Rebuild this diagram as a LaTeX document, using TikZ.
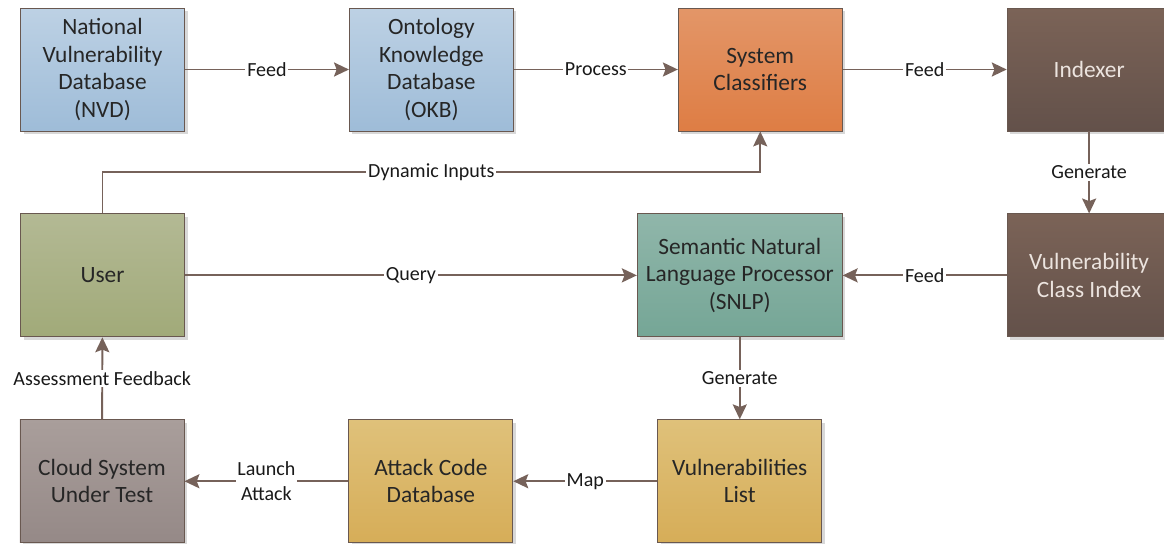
\documentclass[tikz,border=0pt]{standalone}
\usepackage{fontspec}
\setmainfont{Carlito}
\usetikzlibrary{arrows.meta, positioning, shadows}

\definecolor{linec}{RGB}{118,98,90}
\definecolor{boxline}{RGB}{105,88,80}

\begin{document}
\begin{tikzpicture}[>={Stealth[length=8.5pt,width=8pt,inset=1.5pt]}, node distance=3.28cm,
    box/.style={draw=boxline, line width=0.5pt, minimum width=3.28cm, minimum height=2.46cm,
        inner sep=2pt, align=center, text=black!85, font=\fontsize{13.3}{15.6}\selectfont,
        drop shadow={shadow xshift=0.06cm, shadow yshift=-0.06cm, fill=black!30, opacity=0.5}},
    fblue/.style={top color={rgb,255:red,189;green,209;blue,228}, bottom color={rgb,255:red,158;green,188;blue,216}},
    forange/.style={top color={rgb,255:red,227;green,150;blue,104}, bottom color={rgb,255:red,222;green,125;blue,68}},
    fbrown/.style={top color={rgb,255:red,123;green,99;blue,87}, bottom color={rgb,255:red,99;green,81;blue,74}, text={rgb,255:red,236;green,228;blue,223}},
    folive/.style={top color={rgb,255:red,179;green,185;blue,148}, bottom color={rgb,255:red,161;green,170;blue,121}},
    fteal/.style={top color={rgb,255:red,144;green,182;blue,170}, bottom color={rgb,255:red,117;green,166;blue,150}},
    fmauve/.style={top color={rgb,255:red,169;green,158;blue,155}, bottom color={rgb,255:red,149;green,137;blue,135}},
    fgold/.style={top color={rgb,255:red,223;green,193;blue,122}, bottom color={rgb,255:red,214;green,173;blue,88}},
    lbl/.style={fill=white, inner sep=1pt, text=black!90, font=\fontsize{11.4}{14}\selectfont},
    conn/.style={draw=linec, line width=1.1pt, ->}]
    \useasboundingbox (0,0) rectangle (23.28,-10.88);
    % top row
    \node[box, fblue] (nvd) at (2.05,-1.39) {National\\Vulnerability\\Database\\(NVD)};
    \node[box, fblue, right=of nvd] (okb) {Ontology\\Knowledge\\Database\\(OKB)};
    \node[box, forange, right=of okb] (cls) {System\\Classifiers};
    \node[box, fbrown, right=of cls] (idx) {Indexer};
    % middle row
    \node[box, folive, below=1.64cm of nvd] (user) {User};
    \node[box, fteal, minimum width=4.1cm, below=1.64cm of cls.south east, anchor=north east] (snlp) {Semantic Natural\\Language Processor\\(SNLP)};
    \node[box, fbrown, below=1.64cm of idx] (vci) {Vulnerability\\Class Index};
    % bottom row
    \node[box, fgold, below=1.64cm of snlp] (vlist) {Vulnerabilities\\List};
    \node[box, fgold, left=2.88cm of vlist] (acd) {Attack Code\\Database};
    \node[box, fmauve, left=of acd] (cloud) {Cloud System\\Under Test};

    \draw[conn] (nvd) -- node[lbl]{Feed} (okb);
    \draw[conn] (okb) -- node[lbl]{Process} (cls);
    \draw[conn] (cls) -- node[lbl]{Feed} (idx);
    \draw[conn] (idx) -- node[lbl]{Generate} (vci);
    \draw[conn] (user.north) -- ++(0,0.82) -| node[lbl, pos=0.25]{Dynamic Inputs} (cls.south);
    \draw[conn] (user) -- node[lbl]{Query} (snlp);
    \draw[conn] (vci) -- node[lbl]{Feed} (snlp);
    \draw[conn] (snlp) -- node[lbl]{Generate} (vlist);
    \draw[conn] (vlist) -- node[lbl]{Map} (acd);
    \draw[conn] (acd) -- node[lbl, align=center]{Launch\\Attack} (cloud);
    \draw[conn] (cloud) -- node[lbl]{Assessment Feedback} (user);
\end{tikzpicture}
\end{document}
